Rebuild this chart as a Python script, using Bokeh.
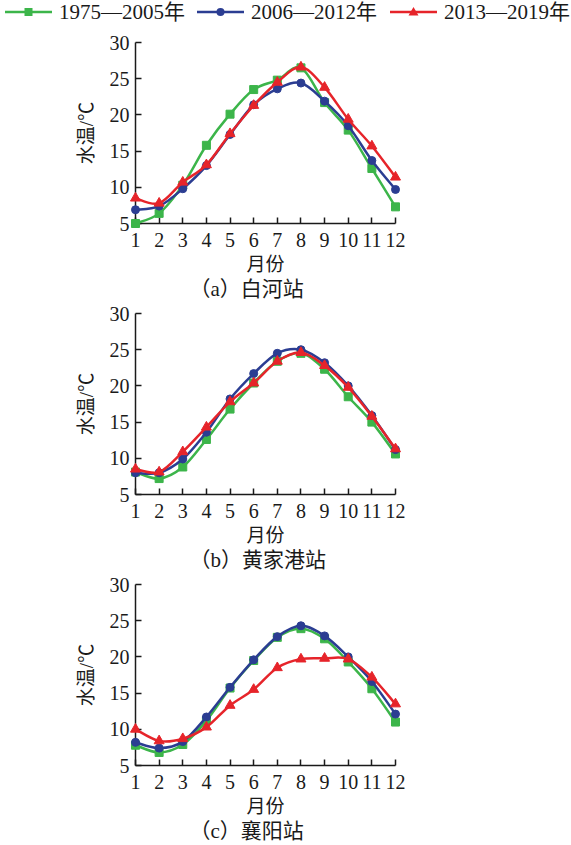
from bokeh.plotting import figure
from bokeh.models import Range1d, Title, FixedTicker, Div
from bokeh.layouts import column
from bokeh.embed import file_html
from bokeh.resources import INLINE

# ---------------- data ----------------
months = [1, 2, 3, 4, 5, 6, 7, 8, 9, 10, 11, 12]
y_ticks = [5, 10, 15, 20, 25, 30]
series_labels = ["1975—2005年", "2006—2012年", "2013—2019年"]
captions = ["（a）白河站", "（b）黄家港站", "（c）襄阳站"]
x_title = "月份"
y_title = "水温/℃"

# (a) 白河站
baihe_1975_2005 = [5.0, 6.4, 10.3, 15.8, 20.1, 23.5, 24.8, 26.5, 21.7, 17.9, 12.6, 7.3]
baihe_2006_2012 = [6.9, 7.4, 9.8, 13.0, 17.3, 21.4, 23.6, 24.4, 21.9, 18.5, 13.7, 9.7]
baihe_2013_2019 = [8.5, 7.8, 10.7, 13.1, 17.4, 21.3, 24.5, 26.6, 23.8, 19.4, 15.7, 11.4]

# (b) 黄家港站
hjg_1975_2005 = [8.1, 7.2, 8.8, 12.6, 16.8, 20.4, 23.4, 24.5, 22.3, 18.5, 15.0, 10.6]
hjg_2006_2012 = [8.0, 8.0, 9.9, 13.6, 18.2, 21.7, 24.5, 25.0, 23.2, 20.0, 15.9, 11.2]
hjg_2013_2019 = [8.5, 8.1, 10.9, 14.3, 17.8, 20.4, 23.4, 24.6, 22.8, 19.8, 15.8, 11.3]

# (c) 襄阳站
xy_1975_2005 = [7.8, 6.8, 7.9, 11.2, 15.7, 19.5, 22.7, 23.9, 22.5, 19.3, 15.6, 11.0]
xy_2006_2012 = [8.2, 7.4, 8.3, 11.7, 15.8, 19.6, 22.8, 24.3, 22.9, 20.0, 16.6, 12.1]
xy_2013_2019 = [10.0, 8.4, 8.7, 10.3, 13.3, 15.5, 18.5, 19.7, 19.8, 19.7, 17.2, 13.5]

panels = [
    [baihe_1975_2005, baihe_2006_2012, baihe_2013_2019],
    [hjg_1975_2005, hjg_2006_2012, hjg_2013_2019],
    [xy_1975_2005, xy_2006_2012, xy_2013_2019],
]

# ---------------- styles ----------------
colors = ["#3cb54a", "#2b3d92", "#e6242a"]
markers = ["square", "circle", "triangle"]
msizes = [8, 8, 10]
FONT = "Liberation Serif, Noto Sans CJK SC"
INK = "#1a1a1a"
FRAME_W, FRAME_H = 260, 181
LEFT = 135
RIGHT = 170


def bezier_parts(xs, ys):
    n = len(xs)
    x0, y0, x1, y1, cx0, cy0, cx1, cy1 = [], [], [], [], [], [], [], []
    for i in range(n - 1):
        a = i - 1 if i > 0 else i
        d = i + 2 if i + 2 < n else i + 1
        x0.append(xs[i]); y0.append(ys[i])
        x1.append(xs[i + 1]); y1.append(ys[i + 1])
        cx0.append(xs[i] + (xs[i + 1] - xs[a]) / 6.0)
        cy0.append(ys[i] + (ys[i + 1] - ys[a]) / 6.0)
        cx1.append(xs[i + 1] - (xs[d] - xs[i]) / 6.0)
        cy1.append(ys[i + 1] - (ys[d] - ys[i]) / 6.0)
    return dict(x0=x0, y0=y0, x1=x1, y1=y1, cx0=cx0, cy0=cy0, cx1=cx1, cy1=cy1)


def make_panel(series, caption, top, bottom):
    p = figure(frame_width=FRAME_W, frame_height=FRAME_H,
               x_range=Range1d(1, 12), y_range=Range1d(5, 30),
               output_backend="svg", toolbar_location=None,
               min_border_left=LEFT, min_border_right=RIGHT,
               min_border_top=top, min_border_bottom=bottom)
    p.outline_line_color = None
    p.xgrid.visible = False
    p.ygrid.visible = False
    p.xaxis.ticker = FixedTicker(ticks=months)
    p.yaxis.ticker = FixedTicker(ticks=y_ticks)
    for ax in (p.xaxis[0], p.yaxis[0]):
        ax.major_tick_in = 6
        ax.major_tick_out = 0
        ax.minor_tick_line_color = None
        ax.axis_line_color = INK
        ax.axis_line_width = 1.5
        ax.major_tick_line_color = INK
        ax.major_tick_line_width = 1.5
        ax.major_label_text_font = FONT
        ax.major_label_text_font_size = "20px"
        ax.major_label_text_color = INK
        ax.axis_label_text_font = FONT
        ax.axis_label_text_font_size = "19px"
        ax.axis_label_text_font_style = "normal"
        ax.axis_label_text_color = INK
    p.xaxis.major_label_standoff = 9
    p.yaxis.major_label_standoff = 6
    p.xaxis.axis_label = x_title
    p.yaxis.axis_label = y_title
    p.xaxis.axis_label_standoff = 4
    p.xaxis.axis_label_text_line_height = 0.95
    p.yaxis.axis_label_standoff = 10

    for vals, c, m, s in zip(series, colors, markers, msizes):
        p.bezier(source=bezier_parts(months, vals), x0="x0", y0="y0", x1="x1", y1="y1",
                 cx0="cx0", cy0="cy0", cx1="cx1", cy1="cy1",
                 line_color=c, line_width=2.5, line_cap="round", level="overlay")
        p.scatter(months, vals, marker=m, size=s, fill_color=c, line_color=c,
                  level="overlay")

    t = Title(text=caption, align="left", offset=54, standoff=0,
              text_font=FONT, text_font_size="21px", text_font_style="normal",
              text_color=INK)
    try:
        t.standoff = -6
    except Exception:
        pass
    p.add_layout(t, "below")
    return p


# ---------------- legend (HTML) ----------------
def marker_svg(m, c):
    if m == "square":
        return f'<rect x="19.5" y="8" width="8" height="8" fill="{c}"/>'
    if m == "circle":
        return f'<circle cx="23.5" cy="12" r="4" fill="{c}"/>'
    return f'<polygon points="23.5,7 28.5,15.5 18.5,15.5" fill="{c}"/>'


item_left = [5, 197, 390]
parts = []
for lab, c, m, lx in zip(series_labels, colors, markers, item_left):
    parts.append(
        f'<div style="position:absolute;left:{lx}px;top:0px;height:24px;'
        f'display:flex;align-items:center;white-space:nowrap;">'
        f'<svg width="47" height="24" style="display:block">'
        f'<line x1="0" y1="12" x2="47" y2="12" stroke="{c}" stroke-width="2.5"/>'
        f'{marker_svg(m, c)}</svg>'
        f'<span style="margin-left:7px;line-height:24px;">{lab}</span></div>'
    )
legend_html = (
    '<div style="position:relative;width:565px;height:32px;'
    "font-family:'Liberation Serif','Noto Sans CJK SC',serif;font-size:21px;"
    f'color:{INK};">' + "".join(parts) + '</div>'
)
legend_div = Div(text=legend_html, width=565, height=32, margin=0)

pa = make_panel(panels[0], captions[0], 10, 80)
pb = make_panel(panels[1], captions[1], 10, 80)
pc = make_panel(panels[2], captions[2], 10, 78)

layout = column(legend_div, pa, pb, pc, spacing=0)
open("out.html", "w").write(file_html(layout, INLINE))
